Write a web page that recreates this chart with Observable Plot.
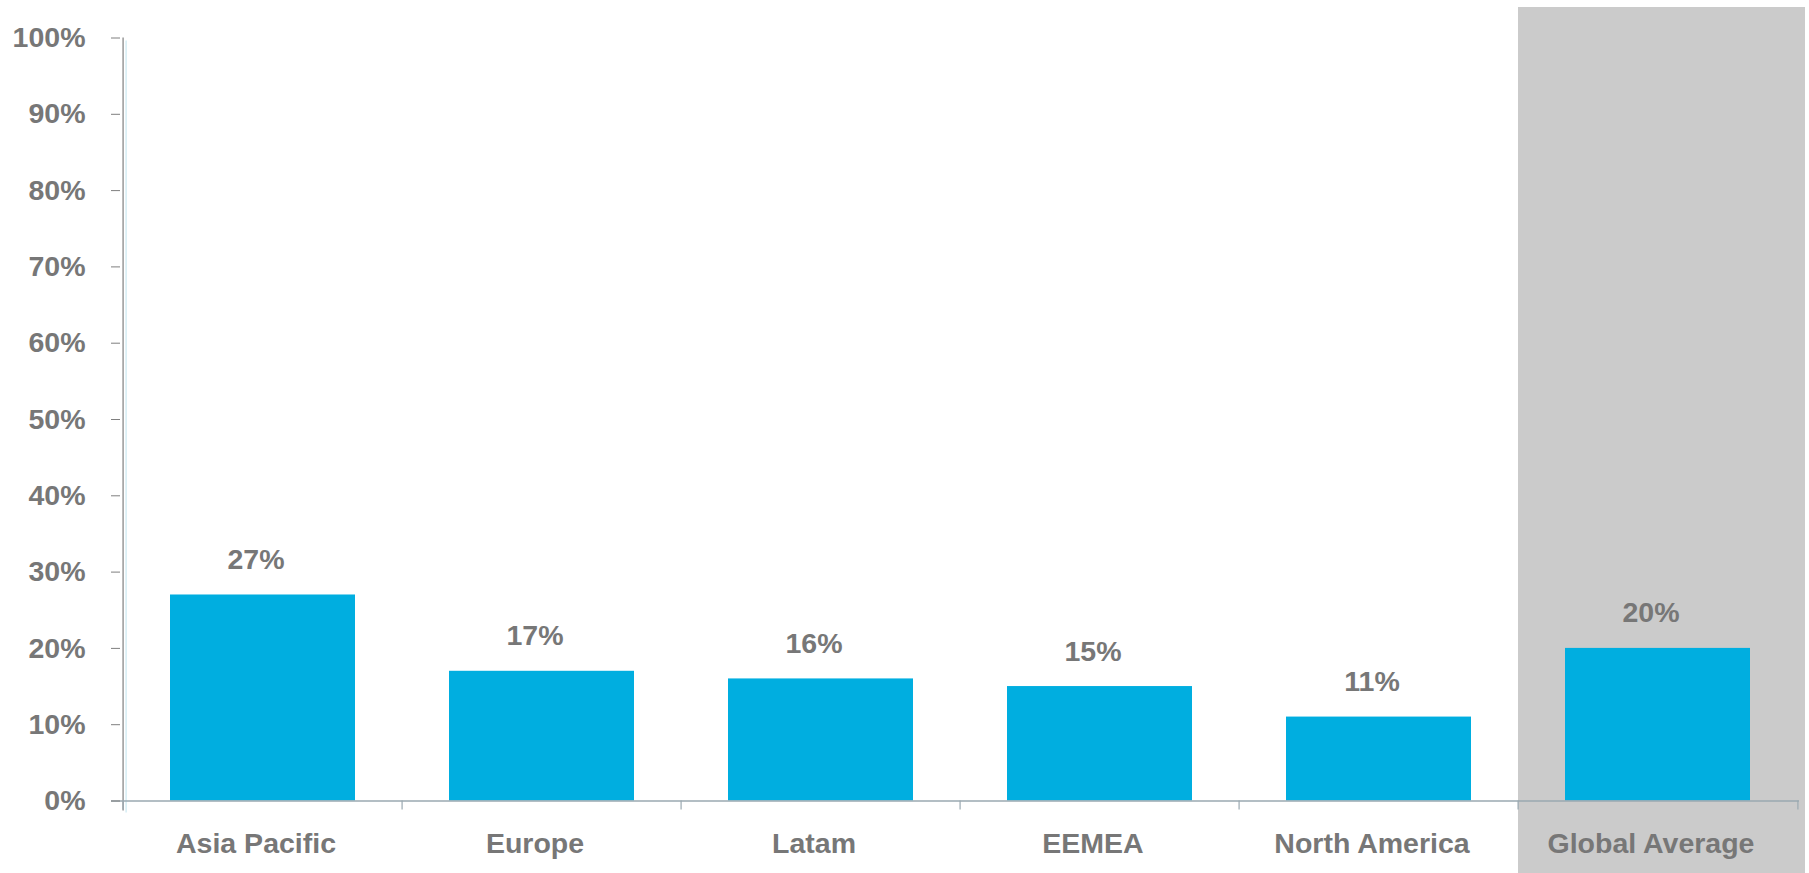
<!DOCTYPE html>
<html><head><meta charset="utf-8">
<script src="https://cdn.jsdelivr.net/npm/d3@7"></script>
<script src="https://cdn.jsdelivr.net/npm/@observablehq/plot@0.6"></script>
<style>
html,body{margin:0;padding:0;background:#fff;}
</style>
</head><body><div id="chart"></div>
<script>
const regions = ["Asia Pacific", "Europe", "Latam", "EEMEA", "North America", "Global Average"];
const shares = [27, 17, 16, 15, 11, 20];
const highlighted = ["Global Average"];
const yTicks = [0, 10, 20, 30, 40, 50, 60, 70, 80, 90, 100];

const data = regions.map((region, i) => ({region, share: shares[i]}));

const width = 1809, height = 873;
const marginLeft = 120, marginRight = 10, marginTop = 37.5, marginBottom = 72.5;
const step = (width - marginLeft - marginRight) / regions.length;
const font = "'Liberation Sans', Arial, Helvetica, sans-serif";
const textColor = "#777777";
const barColor = "#00aee0";
const axisGray = "#7f7f7f";
const baseColor = "#9aa9b1";
const fs = 28.5;

const chart = Plot.plot({
  width, height, marginLeft, marginRight, marginTop, marginBottom,
  style: {fontFamily: font, fontWeight: "bold", fontSize: fs + "px", color: textColor, background: "#ffffff", overflow: "visible"},
  x: {domain: regions, padding: 0, label: null},
  y: {domain: [0, 100], label: null},
  marks: [
    Plot.cell(highlighted, {x: d => d, fill: "#cbcbcb", insetTop: -(marginTop - 7), insetBottom: -marginBottom, insetRight: -8}),
    Plot.barY(data, {x: "region", y: "share", fill: barColor, insetLeft: 47, insetRight: 47}),
    Plot.text(data, {x: "region", y: "share", text: d => d.share + "%", lineAnchor: "bottom", dy: -26, dx: -7, fontSize: fs, fontWeight: "bold", fill: textColor}),
    // y axis line and its light shadow
    Plot.ruleX([regions[0]], {x: d => d, dx: -step / 2 + 3, insetTop: 3, insetBottom: -12, stroke: "#bfe3ee", strokeWidth: 1}),
    Plot.ruleX([regions[0]], {x: d => d, dx: -step / 2, insetBottom: -10, stroke: axisGray, strokeWidth: 1.2}),
    // category boundary ticks
    Plot.ruleX(regions, {x: d => d, y1: 0, y2: 0, dx: -step / 2, insetBottom: -9, stroke: baseColor, strokeWidth: 1.2}),
    Plot.ruleX([regions[regions.length - 1]], {x: d => d, y1: 0, y2: 0, dx: step / 2, insetBottom: -9, stroke: baseColor, strokeWidth: 1.2}),
    Plot.ruleY([0], {insetLeft: -9, stroke: baseColor, strokeWidth: 1.5}),
    Plot.axisY({ticks: yTicks, tickFormat: d => d + "%", tickSize: 9, tickPadding: 26, stroke: axisGray, fill: textColor, fontSize: fs, fontWeight: "bold"}),
    Plot.axisX({tickSize: 0, tickPadding: 32, dx: -7, fill: textColor, fontSize: fs, fontWeight: "bold"})
  ]
});
document.getElementById("chart").appendChild(chart);
</script>
</body></html>
